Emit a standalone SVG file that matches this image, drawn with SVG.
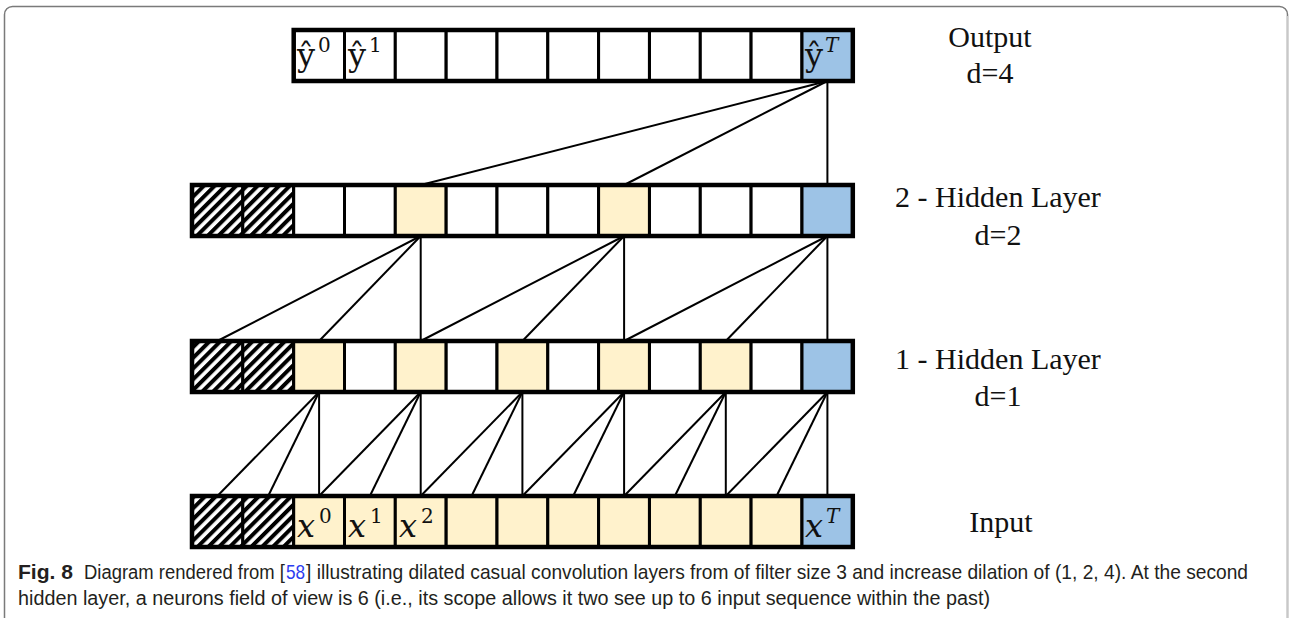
<svg xmlns="http://www.w3.org/2000/svg" width="1290" height="618" viewBox="0 0 1290 618">
  <style>
    .cell { stroke: #000; stroke-width: 3; }
    .w { fill: #fff; }
    .y { fill: #fff2cc; }
    .b { fill: #9dc3e6; }
    .h { fill: url(#hatch); }
    .frame { fill: none; stroke: #000; stroke-width: 4.5; }
    .link { stroke: #000; stroke-width: 2; fill: none; }
    .lbl { font-family: "Liberation Serif", "Times New Roman", serif; font-size: 30px; fill: #111; text-anchor: middle; }
    .m { font-family: "DejaVu Serif", "Liberation Serif", serif; fill: #111; }
    .mi { font-family: "DejaVu Serif", "Liberation Serif", serif; font-style: italic; fill: #111; }
    .cap { font-family: "Liberation Sans", Arial, sans-serif; font-size: 21px; fill: #231f20; }
    .ref { fill: #2b3cf0; }
  </style>
  <defs>
    <pattern id="hatch" width="7.6" height="7.6" patternUnits="userSpaceOnUse" patternTransform="rotate(45)">
      <rect width="7.6" height="7.6" fill="#fff"/>
      <rect width="4" height="7.6" fill="#000"/>
    </pattern>
  </defs>

  <rect width="1290" height="618" fill="#fff"/>

  <!-- figure frame -->
  <path d="M4.5,622 V14.5 A8,8 0 0 1 12.5,6.5 H1279.5 A8,8 0 0 1 1287.5,14.5 V622" fill="none" stroke="#7a7a7a" stroke-width="1.5"/>
  <path d="M1287.5,16 V622" fill="none" stroke="#c8c8c8" stroke-width="1.5"/>

  <!-- connectors -->
  <g id="connectors" class="link">
    <!-- output <- hidden 2 (d=4) -->
    <line x1="827.4" y1="81" x2="420.7" y2="185"/>
    <line x1="827.4" y1="81" x2="624.1" y2="185"/>
    <line x1="827.4" y1="81" x2="827.4" y2="185"/>
    <!-- hidden 2 <- hidden 1 (d=2) -->
    <line x1="420.7" y1="236" x2="217.4" y2="341"/>
    <line x1="420.7" y1="236" x2="319.1" y2="341"/>
    <line x1="420.7" y1="236" x2="420.7" y2="341"/>
    <line x1="624.1" y1="236" x2="420.7" y2="341"/>
    <line x1="624.1" y1="236" x2="522.4" y2="341"/>
    <line x1="624.1" y1="236" x2="624.1" y2="341"/>
    <line x1="827.4" y1="236" x2="624.1" y2="341"/>
    <line x1="827.4" y1="236" x2="725.8" y2="341"/>
    <line x1="827.4" y1="236" x2="827.4" y2="341"/>
    <!-- hidden 1 <- input (d=1) -->
    <line x1="319.1" y1="392" x2="217.4" y2="496"/>
    <line x1="319.1" y1="392" x2="268.2" y2="496"/>
    <line x1="319.1" y1="392" x2="319.1" y2="496"/>
    <line x1="420.7" y1="392" x2="319.1" y2="496"/>
    <line x1="420.7" y1="392" x2="369.9" y2="496"/>
    <line x1="420.7" y1="392" x2="420.7" y2="496"/>
    <line x1="522.4" y1="392" x2="420.7" y2="496"/>
    <line x1="522.4" y1="392" x2="471.6" y2="496"/>
    <line x1="522.4" y1="392" x2="522.4" y2="496"/>
    <line x1="624.1" y1="392" x2="522.4" y2="496"/>
    <line x1="624.1" y1="392" x2="573.2" y2="496"/>
    <line x1="624.1" y1="392" x2="624.1" y2="496"/>
    <line x1="725.8" y1="392" x2="624.1" y2="496"/>
    <line x1="725.8" y1="392" x2="674.9" y2="496"/>
    <line x1="725.8" y1="392" x2="725.8" y2="496"/>
    <line x1="827.4" y1="392" x2="725.8" y2="496"/>
    <line x1="827.4" y1="392" x2="776.6" y2="496"/>
    <line x1="827.4" y1="392" x2="827.4" y2="496"/>
  </g>

  <!-- output layer -->
  <g id="output-layer">
    <g id="out-2"><rect class="cell w" x="293.7" y="30" width="50.8" height="51"/>
      <text class="m" x="297" y="66" font-size="32">ŷ</text><text class="m" x="318" y="52" font-size="20">0</text></g>
    <g id="out-3"><rect class="cell w" x="344.5" y="30" width="50.8" height="51"/>
      <text class="m" x="348" y="66" font-size="32">ŷ</text><text class="m" x="369" y="52" font-size="20">1</text></g>
    <g id="out-4"><rect class="cell w" x="395.3" y="30" width="50.8" height="51"/></g>
    <g id="out-5"><rect class="cell w" x="446.2" y="30" width="50.8" height="51"/></g>
    <g id="out-6"><rect class="cell w" x="497.0" y="30" width="50.8" height="51"/></g>
    <g id="out-7"><rect class="cell w" x="547.8" y="30" width="50.8" height="51"/></g>
    <g id="out-8"><rect class="cell w" x="598.6" y="30" width="50.8" height="51"/></g>
    <g id="out-9"><rect class="cell w" x="649.5" y="30" width="50.8" height="51"/></g>
    <g id="out-10"><rect class="cell w" x="700.3" y="30" width="50.8" height="51"/></g>
    <g id="out-11"><rect class="cell w" x="751.1" y="30" width="50.8" height="51"/></g>
    <g id="out-12"><rect class="cell b" x="802.0" y="30" width="50.8" height="51"/>
      <text class="m" x="805" y="66" font-size="32">ŷ</text><text class="mi" x="825" y="52" font-size="20">T</text></g>
    <rect class="frame" x="293.7" y="30" width="559.1" height="51"/>
  </g>

  <!-- hidden layer 2 -->
  <g id="hidden-2">
    <g id="h2-0"><rect class="cell h" x="192.0" y="185" width="50.8" height="51"/></g>
    <g id="h2-1"><rect class="cell h" x="242.8" y="185" width="50.8" height="51"/></g>
    <g id="h2-2"><rect class="cell w" x="293.7" y="185" width="50.8" height="51"/></g>
    <g id="h2-3"><rect class="cell w" x="344.5" y="185" width="50.8" height="51"/></g>
    <g id="h2-4"><rect class="cell y" x="395.3" y="185" width="50.8" height="51"/></g>
    <g id="h2-5"><rect class="cell w" x="446.2" y="185" width="50.8" height="51"/></g>
    <g id="h2-6"><rect class="cell w" x="497.0" y="185" width="50.8" height="51"/></g>
    <g id="h2-7"><rect class="cell w" x="547.8" y="185" width="50.8" height="51"/></g>
    <g id="h2-8"><rect class="cell y" x="598.6" y="185" width="50.8" height="51"/></g>
    <g id="h2-9"><rect class="cell w" x="649.5" y="185" width="50.8" height="51"/></g>
    <g id="h2-10"><rect class="cell w" x="700.3" y="185" width="50.8" height="51"/></g>
    <g id="h2-11"><rect class="cell w" x="751.1" y="185" width="50.8" height="51"/></g>
    <g id="h2-12"><rect class="cell b" x="802.0" y="185" width="50.8" height="51"/></g>
    <rect class="frame" x="192" y="185" width="660.8" height="51"/>
  </g>

  <!-- hidden layer 1 -->
  <g id="hidden-1">
    <g id="h1-0"><rect class="cell h" x="192.0" y="341" width="50.8" height="51"/></g>
    <g id="h1-1"><rect class="cell h" x="242.8" y="341" width="50.8" height="51"/></g>
    <g id="h1-2"><rect class="cell y" x="293.7" y="341" width="50.8" height="51"/></g>
    <g id="h1-3"><rect class="cell w" x="344.5" y="341" width="50.8" height="51"/></g>
    <g id="h1-4"><rect class="cell y" x="395.3" y="341" width="50.8" height="51"/></g>
    <g id="h1-5"><rect class="cell w" x="446.2" y="341" width="50.8" height="51"/></g>
    <g id="h1-6"><rect class="cell y" x="497.0" y="341" width="50.8" height="51"/></g>
    <g id="h1-7"><rect class="cell w" x="547.8" y="341" width="50.8" height="51"/></g>
    <g id="h1-8"><rect class="cell y" x="598.6" y="341" width="50.8" height="51"/></g>
    <g id="h1-9"><rect class="cell w" x="649.5" y="341" width="50.8" height="51"/></g>
    <g id="h1-10"><rect class="cell y" x="700.3" y="341" width="50.8" height="51"/></g>
    <g id="h1-11"><rect class="cell w" x="751.1" y="341" width="50.8" height="51"/></g>
    <g id="h1-12"><rect class="cell b" x="802.0" y="341" width="50.8" height="51"/></g>
    <rect class="frame" x="192" y="341" width="660.8" height="51"/>
  </g>

  <!-- input layer -->
  <g id="input-layer">
    <g id="in-0"><rect class="cell h" x="192.0" y="496" width="50.8" height="51"/></g>
    <g id="in-1"><rect class="cell h" x="242.8" y="496" width="50.8" height="51"/></g>
    <g id="in-2"><rect class="cell y" x="293.7" y="496" width="50.8" height="51"/>
      <text class="mi" x="297" y="537" font-size="32">x</text><text class="m" x="319" y="523" font-size="20">0</text></g>
    <g id="in-3"><rect class="cell y" x="344.5" y="496" width="50.8" height="51"/>
      <text class="mi" x="348" y="537" font-size="32">x</text><text class="m" x="370" y="523" font-size="20">1</text></g>
    <g id="in-4"><rect class="cell y" x="395.3" y="496" width="50.8" height="51"/>
      <text class="mi" x="399" y="537" font-size="32">x</text><text class="m" x="421" y="523" font-size="20">2</text></g>
    <g id="in-5"><rect class="cell y" x="446.2" y="496" width="50.8" height="51"/></g>
    <g id="in-6"><rect class="cell y" x="497.0" y="496" width="50.8" height="51"/></g>
    <g id="in-7"><rect class="cell y" x="547.8" y="496" width="50.8" height="51"/></g>
    <g id="in-8"><rect class="cell y" x="598.6" y="496" width="50.8" height="51"/></g>
    <g id="in-9"><rect class="cell y" x="649.5" y="496" width="50.8" height="51"/></g>
    <g id="in-10"><rect class="cell y" x="700.3" y="496" width="50.8" height="51"/></g>
    <g id="in-11"><rect class="cell y" x="751.1" y="496" width="50.8" height="51"/></g>
    <g id="in-12"><rect class="cell b" x="802.0" y="496" width="50.8" height="51"/>
      <text class="mi" x="805" y="537" font-size="32">x</text><text class="mi" x="826" y="523" font-size="20">T</text></g>
    <rect class="frame" x="192" y="496" width="660.8" height="51"/>
  </g>

  <!-- layer labels -->
  <g id="labels">
    <text class="lbl" x="990" y="47">Output</text>
    <text class="lbl" x="990" y="83">d=4</text>
    <text class="lbl" x="998" y="207">2 - Hidden Layer</text>
    <text class="lbl" x="998" y="245">d=2</text>
    <text class="lbl" x="998" y="369">1 - Hidden Layer</text>
    <text class="lbl" x="998" y="406">d=1</text>
    <text class="lbl" x="1001" y="532">Input</text>
  </g>

  <!-- caption: condensed by horizontal scaling -->
  <g id="caption">
    <text class="cap" x="18" y="579" font-weight="bold" textLength="55" lengthAdjust="spacingAndGlyphs">Fig. 8</text>
    <text class="cap" transform="translate(84,579) scale(0.883,1)" x="0" y="0" textLength="227.6" lengthAdjust="spacingAndGlyphs">Diagram rendered from [</text>
    <text class="cap ref" transform="translate(286,579) scale(0.82,1)" x="0" y="0" textLength="23.2" lengthAdjust="spacingAndGlyphs">58</text>
    <text class="cap" transform="translate(306,579) scale(0.913,1)" x="0" y="0" textLength="1031.8" lengthAdjust="spacingAndGlyphs">] illustrating dilated casual convolution layers from of filter size 3 and increase dilation of (1, 2, 4). At the second</text>
    <text class="cap" transform="translate(18,605) scale(0.941,1)" x="0" y="0" textLength="1033" lengthAdjust="spacingAndGlyphs">hidden layer, a neurons field of view is 6 (i.e., its scope allows it two see up to 6 input sequence within the past)</text>
  </g>
</svg>
